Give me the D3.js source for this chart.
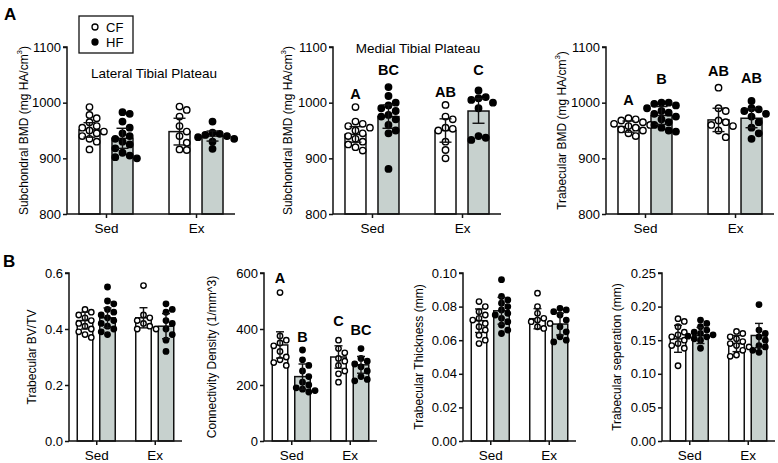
<!DOCTYPE html>
<html><head><meta charset="utf-8">
<script src="https://cdn.jsdelivr.net/npm/d3@7"></script>
<style>
body{margin:0;background:#fff}
svg{display:block}
text{font-family:"Liberation Sans",Arial,Helvetica,sans-serif;fill:#000}
</style>
</head><body><svg id="c" width="778" height="463"></svg>
<script>
const groups = ["Sed", "Ex"];
const series = ["CF", "HF"];
// every per-bar array is ordered [Sed-CF, Sed-HF, Ex-CF, Ex-HF]

// A: Lateral tibial plateau subchondral BMD
const latMean = [951, 936, 948, 940];
const latSD = [13, 18, 24, 9];
const latPts = [
  [992, 978, 972, 965, 958, 955, 950, 948, 945, 940, 935, 930, 916],
  [983, 980, 966, 955, 945, 940, 935, 930, 925, 918, 910, 905, 902, 900],
  [993, 987, 975, 958, 948, 940, 928, 916, 915],
  [966, 946, 944, 942, 940, 938, 935, 930, 917]
];

// A: Medial tibial plateau subchondral BMD
const medMean = [943, 975, 950, 985];
const medSD = [14, 21, 21, 22];
const medPts = [
  [992, 966, 962, 958, 955, 950, 945, 940, 935, 930, 925, 920, 914],
  [1028, 1012, 1000, 995, 990, 985, 978, 975, 970, 960, 950, 945, 881],
  [996, 975, 970, 955, 953, 950, 930, 915, 900],
  [1022, 1010, 1008, 1005, 1000, 990, 940, 937, 933]
];
const medLetters = ["A", "BC", "AB", "C"];
const medLetterY = [1007, 1050, 1010, 1050];

// A: Trabecular BMD
const trbMean = [957, 977, 969, 972];
const trbSD = [10, 16, 21, 17];
const trbPts = [
  [972, 970, 968, 965, 962, 960, 958, 955, 952, 950, 945, 940],
  [1000, 1000, 998, 995, 990, 985, 982, 980, 975, 970, 965, 960, 955, 950, 948],
  [1027, 990, 985, 968, 965, 960, 958, 950, 938],
  [1003, 990, 988, 985, 980, 975, 965, 955, 945, 935]
];
const trbLetters = ["A", "B", "AB", "AB"];
const trbLetterY = [996, 1033, 1048, 1035];

// B: Trabecular BV/TV
const bvMean = [0.43, 0.44, 0.44, 0.41];
const bvSD = [0.03, 0.035, 0.036, 0.045];
const bvPts = [
  [0.47, 0.46, 0.45, 0.44, 0.43, 0.42, 0.41, 0.40, 0.39, 0.38, 0.37],
  [0.55, 0.50, 0.49, 0.47, 0.46, 0.45, 0.44, 0.43, 0.42, 0.41, 0.40, 0.39, 0.38],
  [0.555, 0.45, 0.44, 0.43, 0.42, 0.41, 0.40, 0.40],
  [0.49, 0.47, 0.46, 0.43, 0.42, 0.40, 0.38, 0.36, 0.32]
];

// B: Connectivity density
const connMean = [343, 230, 300, 272];
const connSD = [47, 45, 40, 30];
const connPts = [
  [530, 375, 360, 350, 340, 320, 300, 290, 280, 270],
  [325, 290, 270, 250, 230, 210, 200, 190, 185, 180, 175],
  [360, 330, 315, 295, 285, 270, 250, 240, 210],
  [330, 295, 285, 275, 265, 250, 230, 220, 215]
];
const connLetters = ["A", "B", "C", "BC"];
const connLetterY = [566, 355, 411, 379];

// B: Trabecular thickness
const thMean = [0.0716, 0.0775, 0.0728, 0.0696];
const thSD = [0.007, 0.008, 0.006, 0.0065];
const thPts = [
  [0.083, 0.080, 0.077, 0.075, 0.073, 0.072, 0.070, 0.068, 0.066, 0.063, 0.060, 0.058],
  [0.096, 0.086, 0.084, 0.082, 0.080, 0.078, 0.076, 0.075, 0.073, 0.071, 0.069, 0.066, 0.064],
  [0.088, 0.080, 0.076, 0.073, 0.072, 0.071, 0.070, 0.068, 0.067],
  [0.079, 0.078, 0.077, 0.075, 0.072, 0.068, 0.065, 0.062, 0.060, 0.059]
];

// B: Trabecular separation
const sepMean = [0.152, 0.157, 0.145, 0.157];
const sepSD = [0.02, 0.012, 0.012, 0.018];
const sepPts = [
  [0.182, 0.178, 0.170, 0.162, 0.158, 0.155, 0.150, 0.145, 0.142, 0.138, 0.112],
  [0.180, 0.175, 0.170, 0.165, 0.162, 0.160, 0.158, 0.156, 0.155, 0.152, 0.150, 0.138],
  [0.163, 0.160, 0.155, 0.152, 0.148, 0.145, 0.142, 0.140, 0.135, 0.128, 0.126],
  [0.203, 0.165, 0.160, 0.155, 0.150, 0.142, 0.140, 0.135, 0.132]
];

const aTicks = [800, 900, 1000, 1100];
const bvTicks = [0, 0.2, 0.4, 0.6];
const connTicks = [0, 200, 400, 600];
const thTicks = [0, 0.02, 0.04, 0.06, 0.08, 0.10];
const sepTicks = [0, 0.05, 0.10, 0.15, 0.20, 0.25];

const HF_FILL = "#c7d1ce";
const svg = d3.select("#c");

const rowA = {top: 47, bot: 214, w: 168, pad: 0.433, half: 27, pin: 0.364, r: 3.2, cap: 12, labSize: 12, tickSize: 13, catSize: 13.5, letterSize: 14.5};
const rowB = {top: 273, bot: 441, w: 113, pad: 0.466, half: 19, pin: 0.311, r: 2.7, cap: 8, labSize: 12, tickSize: 13, catSize: 13.5, letterSize: 14.5};

const panels = [
  {row: rowA, x0: 67, lab: ["Subchondral BMD (mg HA/cm", "3", ")"], labOff: 43, domain: [800, 1100], ticks: aTicks, fmt: d3.format("d"), mean: latMean, sd: latSD, pts: latPts, title: "Lateral Tibial Plateau", titleX: 154, titleY: 78, legend: true},
  {row: rowA, x0: 333, lab: ["Subchondral BMD (mg HA/cm", "3", ")"], labOff: 45, domain: [800, 1100], ticks: aTicks, fmt: d3.format("d"), mean: medMean, sd: medSD, pts: medPts, title: "Medial Tibial Plateau", titleX: 418, titleY: 53, letters: medLetters, letterY: medLetterY},
  {row: rowA, x0: 606, lab: ["Trabecular BMD (mg HA/cm", "3", ")"], labOff: 44, domain: [800, 1100], ticks: aTicks, fmt: d3.format("d"), mean: trbMean, sd: trbSD, pts: trbPts, letters: trbLetters, letterY: trbLetterY},
  {row: rowB, x0: 69, lab: ["Trabecular BV/TV"], labOff: 37, domain: [0, 0.6], ticks: bvTicks, fmt: d3.format(".1f"), mean: bvMean, sd: bvSD, pts: bvPts},
  {row: rowB, x0: 264, lab: ["Connectivity Density (1/mm^3)"], labOff: 52, domain: [0, 600], ticks: connTicks, fmt: d3.format("d"), mean: connMean, sd: connSD, pts: connPts, letters: connLetters, letterY: connLetterY},
  {row: rowB, x0: 463, lab: ["Trabecular Thickness (mm)"], labOff: 44, domain: [0, 0.10], ticks: thTicks, fmt: d3.format(".2f"), mean: thMean, sd: thSD, pts: thPts},
  {row: rowB, x0: 662, lab: ["Trabecular seperation (mm)"], labOff: 45, domain: [0, 0.25], ticks: sepTicks, fmt: d3.format(".2f"), mean: sepMean, sd: sepSD, pts: sepPts}
];

function swarm(vals, y, r) {
  const idx = vals.map((v, i) => i).sort((a, b) => vals[b] - vals[a]);
  const out = new Array(vals.length).fill(0);
  const placed = [];
  const step = r * 1.9;
  const minD = (2 * r) * 0.92;
  idx.forEach(i => {
    const py = y(vals[i]);
    for (let k = 0; k < 20; k++) {
      const m = Math.ceil(k / 2) * (k % 2 === 1 ? 1 : -1);
      const dx = m * step;
      const ok = placed.every(p => Math.hypot(p.dx - dx, p.y - py) >= minD);
      if (ok) { out[i] = dx; placed.push({dx, y: py}); break; }
    }
  });
  return out;
}

panels.forEach(P => {
  const R = P.row;
  const g = svg.append("g");
  const y = d3.scaleLinear().domain(P.domain).range([R.bot, R.top]);
  const xo = d3.scalePoint().domain(groups).range([P.x0, P.x0 + R.w]).padding(R.pad);
  const xi = d3.scaleBand().domain(series).range([-R.half, R.half]).paddingInner(R.pin);
  const bw = xi.bandwidth();

  const bars = [];
  groups.forEach((gr, gi) => series.forEach((s, si) => {
    const k = gi * 2 + si;
    bars.push({g: gr, s, mean: P.mean[k], sd: P.sd[k], pts: P.pts[k], k});
  }));

  g.selectAll("rect.bar").data(bars).join("rect")
    .attr("x", d => xo(d.g) + xi(d.s))
    .attr("y", d => y(d.mean))
    .attr("width", bw)
    .attr("height", d => R.bot - y(d.mean))
    .attr("fill", d => d.s === "HF" ? HF_FILL : "#fff")
    .attr("stroke", "#111").attr("stroke-width", 1.5);

  bars.forEach(b => {
    const cx = xo(b.g) + xi(b.s) + bw / 2;
    const offs = swarm(b.pts, y, R.r + 0.6);
    g.selectAll(null).data(b.pts).join("circle")
      .attr("cx", (v, i) => cx + offs[i])
      .attr("cy", v => y(v))
      .attr("r", R.r)
      .attr("fill", b.s === "HF" ? "#000" : "#fff")
      .attr("stroke", "#000").attr("stroke-width", 1.4);
  });

  bars.forEach(b => {
    const cx = xo(b.g) + xi(b.s) + bw / 2;
    const t = y(b.mean + b.sd), bt = y(b.mean - b.sd);
    g.append("line").attr("x1", cx).attr("x2", cx).attr("y1", t).attr("y2", bt).attr("stroke", "#111").attr("stroke-width", 1.4);
    [t, bt].forEach(yy => g.append("line").attr("x1", cx - R.cap / 2).attr("x2", cx + R.cap / 2).attr("y1", yy).attr("y2", yy).attr("stroke", "#111").attr("stroke-width", 1.4));
  });

  const ya = d3.axisLeft(y).tickValues(P.ticks).tickFormat(P.fmt).tickSize(4).tickPadding(2);
  const yg = g.append("g").attr("transform", `translate(${P.x0},0)`).call(ya);
  yg.select(".domain").attr("stroke", "#111").attr("stroke-width", 1.5).attr("d", `M-4,${R.top}H0V${R.bot}`);
  yg.selectAll(".tick line").attr("stroke", "#111").attr("stroke-width", 1.5);
  yg.selectAll(".tick text").style("font-size", R.tickSize + "px").attr("font-family", null);

  const xa = d3.axisBottom(xo).tickSize(4).tickPadding(5);
  const xg = g.append("g").attr("transform", `translate(0,${R.bot})`).call(xa);
  xg.select(".domain").attr("stroke", "#111").attr("stroke-width", 1.5).attr("d", `M${P.x0},0H${P.x0 + R.w}`);
  xg.selectAll(".tick line").attr("stroke", "#111").attr("stroke-width", 1.5);
  xg.selectAll(".tick text").style("font-size", R.catSize + "px").attr("font-family", null);

  const lt = g.append("text")
    .attr("transform", `translate(${P.x0 - P.labOff},${(R.top + R.bot) / 2}) rotate(-90)`)
    .attr("text-anchor", "middle").attr("dominant-baseline", "central")
    .style("font-size", R.labSize + "px");
  lt.append("tspan").text(P.lab[0]);
  if (P.lab.length > 1) {
    lt.append("tspan").text(P.lab[1]).attr("dy", -5).style("font-size", "8px");
    lt.append("tspan").text(P.lab[2]).attr("dy", 5);
  }

  if (P.title) {
    g.append("text").attr("x", P.titleX).attr("y", P.titleY).attr("text-anchor", "middle")
      .style("font-size", "13.5px").text(P.title);
  }

  if (P.letters) {
    g.selectAll("text.let").data(bars).join("text")
      .attr("x", d => xo(d.g) + xi(d.s) + bw / 2)
      .attr("y", d => y(P.letterY[d.k]))
      .attr("text-anchor", "middle").style("font-size", R.letterSize + "px").style("font-weight", "bold")
      .text(d => P.letters[d.k]);
  }

  if (P.legend) {
    const lg = g.append("g");
    lg.append("rect").attr("x", 79).attr("y", 16).attr("width", 54).attr("height", 37)
      .attr("fill", "#fff").attr("stroke", "#111").attr("stroke-width", 1.3);
    series.forEach((s, i) => {
      const yy = 27 + i * 15;
      lg.append("circle").attr("cx", 95).attr("cy", yy).attr("r", 3)
        .attr("fill", s === "HF" ? "#000" : "#fff").attr("stroke", "#000").attr("stroke-width", 1.3);
      lg.append("text").attr("x", 106).attr("y", yy).attr("dominant-baseline", "central")
        .style("font-size", "13px").text(s);
    });
  }
});

svg.append("text").attr("x", 4).attr("y", 20).style("font-size", "17px").style("font-weight", "bold").text("A");
svg.append("text").attr("x", 3).attr("y", 267).style("font-size", "17px").style("font-weight", "bold").text("B");
</script>
</body></html>
